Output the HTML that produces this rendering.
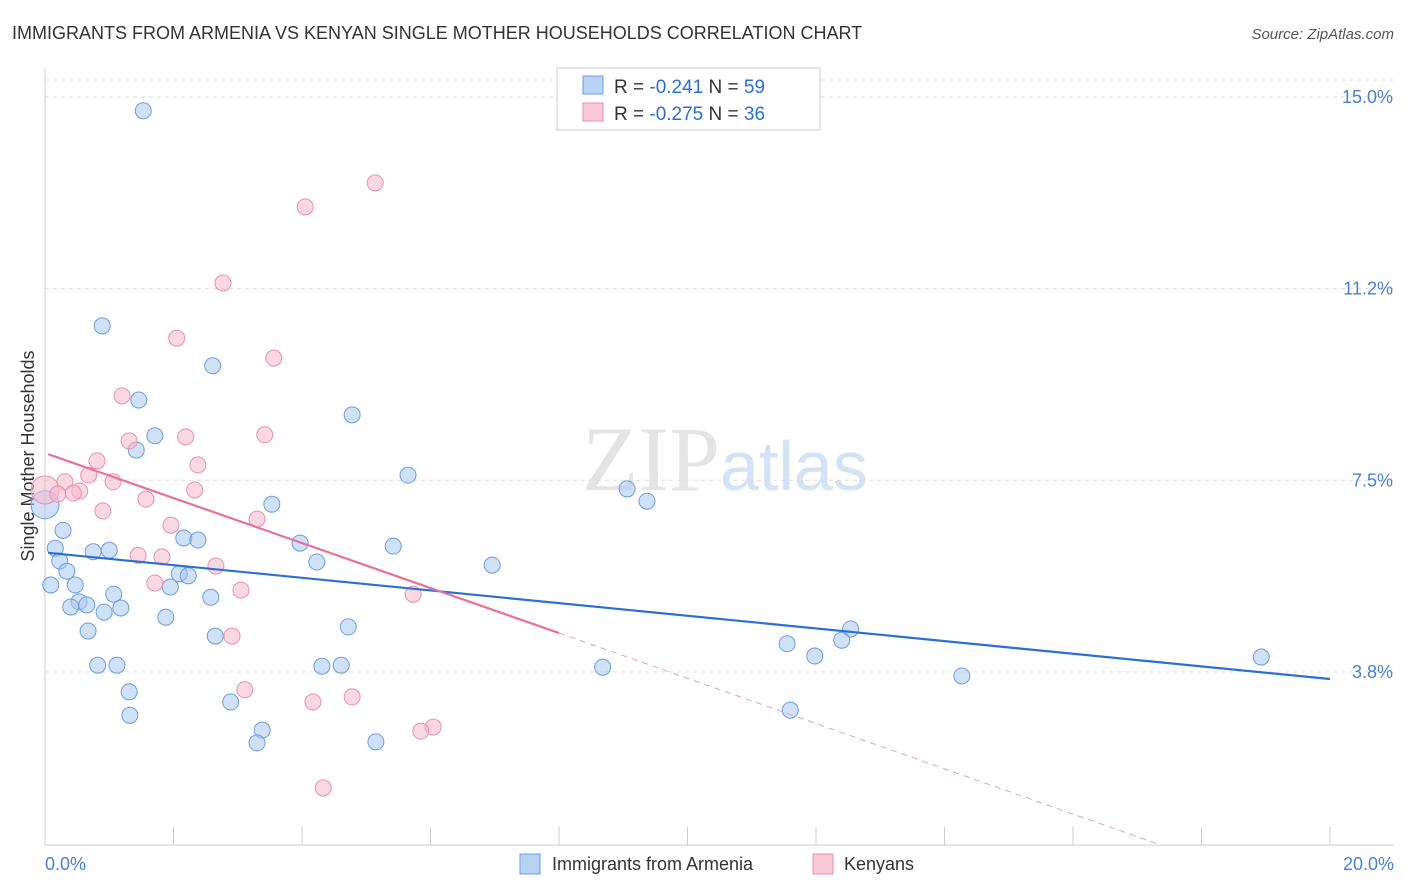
<!DOCTYPE html>
<html><head><meta charset="utf-8">
<style>
body{margin:0;background:#fff;font-family:"Liberation Sans",sans-serif;}
svg{display:block}
</style></head>
<body>
<svg id="chart" width="1406" height="892" viewBox="0 0 1406 892">
<text x="12" y="39" font-size="18" fill="#333">IMMIGRANTS FROM ARMENIA VS KENYAN SINGLE MOTHER HOUSEHOLDS CORRELATION CHART</text>
<text x="1394" y="39" font-size="15" fill="#555" font-style="italic" text-anchor="end">Source: ZipAtlas.com</text>
<text x="720" y="490" font-size="92" fill="#e4e4e4" text-anchor="end" font-family="Liberation Serif">ZIP</text>
<text x="720" y="490" font-size="70" fill="#d3e2f5">atlas</text>
<text transform="translate(34,456) rotate(-90)" font-size="18" fill="#333" text-anchor="middle">Single Mother Households</text>
<g id="grid"></g><g id="marks"></g>
<g>
<rect x="557" y="68" width="263" height="62" fill="#fff" stroke="#ccc"/>
<rect x="583" y="76" width="20" height="18" fill="#b8d2f4" stroke="#6a9de0"/>
<rect x="583" y="103" width="20" height="18" fill="#f9c9d8" stroke="#e891ad"/>
<text x="614" y="93" font-size="19" fill="#333">R = <tspan fill="#2a6fd6">-0.241</tspan>   N = <tspan fill="#2a6fd6">59</tspan></text>
<text x="614" y="120" font-size="19" fill="#333">R = <tspan fill="#2a6fd6">-0.275</tspan>   N = <tspan fill="#2a6fd6">36</tspan></text>
</g>
<g>
<rect x="520" y="854" width="20" height="20" fill="#b8d2f4" stroke="#6a9de0"/>
<text x="552" y="870" font-size="18" fill="#333">Immigrants from Armenia</text>
<rect x="813" y="854" width="20" height="20" fill="#f9c9d8" stroke="#e891ad"/>
<text x="844" y="870" font-size="18" fill="#333">Kenyans</text>
</g>
</svg>
<script>
const xTicks=[0,2,4,6,8,10,12,14,16,18,20];
const yTicks=[3.75,7.5,11.25,15];
const yTickLabels=["3.8%","7.5%","11.2%","15.0%"];
const xEndLabels=["0.0%","20.0%"];
const blueX=[1.53,0.89,2.61,1.46,1.71,1.42,4.78,5.65,9.06,9.37,3.53,0.28,0.16,3.97,2.16,2.38,0.75,1.00,5.42,0.23,4.23,6.96,0.34,2.09,2.23,0.09,0.47,1.95,1.07,2.58,0.53,0.40,0.65,0.92,1.18,1.88,0.67,4.72,2.65,12.54,12.40,11.55,11.98,0.82,1.12,4.31,4.61,8.68,18.93,14.27,1.31,2.89,3.38,1.32,11.60,3.30,5.15];
const blueY=[14.73,10.52,9.74,9.07,8.37,8.09,8.78,7.60,7.33,7.09,7.03,6.52,6.17,6.27,6.37,6.33,6.10,6.13,6.21,5.92,5.90,5.84,5.72,5.67,5.63,5.45,5.45,5.41,5.27,5.21,5.12,5.02,5.06,4.92,5.00,4.82,4.55,4.63,4.45,4.59,4.37,4.30,4.06,3.88,3.88,3.86,3.88,3.84,4.04,3.67,3.36,3.16,2.61,2.90,3.00,2.36,2.38];
const pinkX=[5.14,4.05,2.77,2.05,3.56,1.20,3.42,2.19,1.31,0.81,2.38,0.68,1.06,0.31,2.33,0.54,0.20,0.44,1.57,0.90,3.30,1.96,1.45,1.82,2.66,1.71,3.05,5.73,2.91,3.11,4.78,4.17,6.04,5.85,4.33];
const pinkY=[13.32,12.85,11.36,10.28,9.89,9.15,8.39,8.35,8.27,7.88,7.80,7.60,7.47,7.47,7.31,7.29,7.23,7.25,7.13,6.90,6.74,6.62,6.03,6.00,5.82,5.49,5.35,5.27,4.45,3.40,3.26,3.16,2.67,2.59,1.48];
const blueBig=[0,7.02], pinkBig=[0,7.31];
const blueTrend=[[0.05,6.08],[20,3.61]];
const pinkTrend=[[0.05,8.01],[8.0,4.51]];
const pinkTrendDash=[[8.0,4.51],[17.35,0.37]];
const X=v=>45+v*64.25, Y=v=>97+(15-v)*51.1;
const NS="http://www.w3.org/2000/svg";
const grid=document.getElementById('grid'), marks=document.getElementById('marks');
function mk(p,tag,a){const e=document.createElementNS(NS,tag);for(const k in a)e.setAttribute(k,a[k]);p.appendChild(e);return e;}
let e=mk(grid,'line',{x1:45,y1:80,x2:1394,y2:80,stroke:'#ddd','stroke-dasharray':'4,4'});


yTicks.forEach((t,i)=>{
 let g=mk(grid,'line',{x1:45,y1:Y(t),x2:1394,y2:Y(t),stroke:'#ddd','stroke-dasharray':'4,4'});
 
 
 let l=mk(grid,'text',{x:1393,y:Y(t)+6,'font-size':18,fill:'#4a7fd4','text-anchor':'end'});
 l.textContent=yTickLabels[i];
 
 
});
e=mk(grid,'line',{x1:45,y1:68,x2:45,y2:845,stroke:'#ccc'});


e=mk(grid,'line',{x1:45,y1:845,x2:1394,y2:845,stroke:'#ccc'});


xTicks.forEach(t=>{
 let k=mk(grid,'line',{x1:X(t),y1:827,x2:X(t),y2:845,stroke:'#ccc'});
 
 
});
[[45,'start',0],[1394,'end',1]].forEach(([x,a,i])=>{
 let l=mk(grid,'text',{x:x,y:870,'font-size':18,fill:'#4a7fd4','text-anchor':a});
 l.textContent=xEndLabels[i];
 
 
});
function dots(xs,ys,fill,stroke,name){
 xs.forEach((x,i)=>{
  let c=mk(marks,'circle',{cx:X(x),cy:Y(ys[i]),r:8,fill:fill,'fill-opacity':0.55,stroke:stroke,'stroke-width':1});
  
  
 });
}
e=mk(marks,'circle',{cx:X(blueBig[0]),cy:Y(blueBig[1]),r:14,fill:'#a9c8f0','fill-opacity':0.55,stroke:'#6a9de0'});


e=mk(marks,'circle',{cx:X(pinkBig[0]),cy:Y(pinkBig[1]),r:14,fill:'#f5b8cb','fill-opacity':0.55,stroke:'#e891ad'});


dots(blueX,blueY,'#a9c8f0','#6a9de0','armenia-point');
dots(pinkX,pinkY,'#f5b8cb','#e891ad','kenyan-point');
function line(p,st,w,dash,name){
 let l=mk(marks,'line',{x1:X(p[0][0]),y1:Y(p[0][1]),x2:X(p[1][0]),y2:Y(p[1][1]),stroke:st,'stroke-width':w});
 if(dash)l.setAttribute('stroke-dasharray',dash);
 
 
}
line(blueTrend,'#2a6fd6',2.2,null,'armenia-trend-line');
line(pinkTrend,'#e8709a',2.2,null,'kenyan-trend-line');
line(pinkTrendDash,'#e8a0b8',1,'6,5','kenyan-trend-extension');
</script>
</body></html>
